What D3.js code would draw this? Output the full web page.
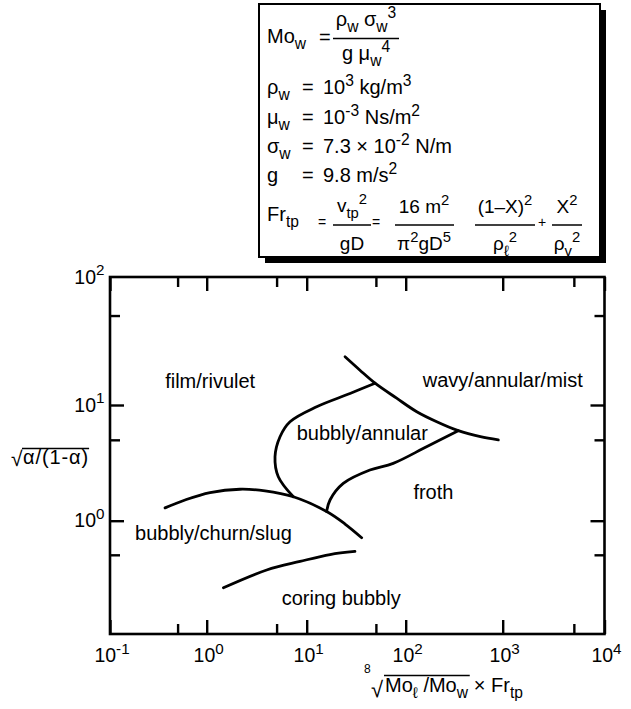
<!DOCTYPE html>
<html>
<head>
<meta charset="utf-8">
<script src="https://cdn.jsdelivr.net/npm/d3@7"></script>
<style>
  html, body { margin: 0; padding: 0; background: #fff; }
  svg { display: block; font-family: "Liberation Sans", Arial, Helvetica, sans-serif; }
</style>
</head>
<body>
<svg id="chart" width="631" height="709"></svg>
<script>
// ---------------- data ----------------
const xMajorTicks = [0.1, 1, 10, 100, 1000, 10000];
const xMajorExponents = ["-1", "0", "1", "2", "3", "4"];
const xMinorTicks = [0.5, 5, 50, 5000];
const yLabeledTicks = [1, 10, 100];
const yLabeledExponents = ["0", "1", "2"];
const yMajorTicks = [1, 10];
const yMinorTicks = [0.5, 5, 50];

// regime boundaries  [x, y] in data units
const boundaryBubblyChurn = [[0.371,1.29],[0.597,1.51],[1.08,1.75],[2.15,1.87],[3.83,1.81],[7.35,1.61],[15.9,1.20],[24.4,0.935],[35.9,0.708]];
const boundaryBubblyAnnular = [[7.35,1.61],[5.2,2.40],[4.82,3.57],[5.41,5.32],[6.81,7.17],[12.6,9.66],[27.4,12.3],[49.0,14.8]];
const boundaryWavy = [[24.4,23.8],[34.5,18.7],[49.0,14.8],[81,11.3],[130,8.75],[209,7.17],[348,6.0],[589,5.32],[901,4.99]];
const boundaryFroth = [[15.9,1.20],[17.2,1.51],[23.4,2.10],[43.5,2.74],[74.8,3.13],[164,4.36],[348,6.0]];
const boundaryCoring = [[1.47,0.256],[3.98,0.367],[8.58,0.437],[17.2,0.503],[30.7,0.535]];
const boundaries = [boundaryBubblyChurn, boundaryBubblyAnnular, boundaryWavy, boundaryFroth, boundaryCoring];

const regionNames = ["film/rivulet", "wavy/annular/mist", "bubbly/annular", "froth", "bubbly/churn/slug", "coring bubbly"];
const regionAnchors = [[0.372,13.5],[150,13.8],[7.94,4.99],[120,1.54],[0.1815,0.676],[5.62,0.18]];

// ---------------- chart ----------------
const svg = d3.select("#chart");
svg.append("rect").attr("width", 631).attr("height", 709).attr("fill", "#fff");

const xScale = d3.scaleLog().domain(xMajorTicks).range([110, 206.7, 306.7, 405.7, 502.7, 604.5]);
const yScale = d3.scaleLog().domain([0.1, 1, 10, 100]).range([634, 520.7, 405, 277]);

// rich text helper: segs = [[text, kind]], kind: undefined | "sub" | "sup"
function rich(parent, x, y, segs, size, anchor) {
  const t = parent.append("text").attr("x", x).attr("y", y)
    .attr("font-size", size).attr("text-anchor", anchor || "start").attr("fill", "#000");
  let cur = 0;
  segs.forEach(([s, kind]) => {
    const off = kind === "sub" ? size * 0.32 : kind === "sup" ? -size * 0.42 : 0;
    const fs = kind ? size * 0.78 : size;
    t.append("tspan").attr("dy", off - cur).attr("font-size", fs).text(s);
    cur = off;
  });
  return t;
}

// frame
svg.append("rect").attr("x", xScale(0.1)).attr("y", yScale(100))
  .attr("width", xScale(10000) - xScale(0.1)).attr("height", yScale(0.1) - yScale(100))
  .attr("fill", "none").attr("stroke", "#000").attr("stroke-width", 2.6);

function styleAxis(g) {
  g.select(".domain").remove();
  g.selectAll(".tick line").attr("stroke", "#000").attr("stroke-width", 2.4);
  g.selectAll(".tick text").remove();
}
const axes = [
  [d3.axisBottom, xScale, xMajorTicks, 14, `translate(0,${yScale(0.1)})`],
  [d3.axisBottom, xScale, xMinorTicks, 10, `translate(0,${yScale(0.1)})`],
  [d3.axisTop, xScale, xMajorTicks, 14, `translate(0,${yScale(100)})`],
  [d3.axisTop, xScale, xMinorTicks, 10, `translate(0,${yScale(100)})`],
  [d3.axisLeft, yScale, yMajorTicks, 14, `translate(${xScale(0.1)},0)`],
  [d3.axisLeft, yScale, yMinorTicks, 10, `translate(${xScale(0.1)},0)`],
  [d3.axisRight, yScale, yMajorTicks, 14, `translate(${xScale(10000)},0)`],
  [d3.axisRight, yScale, yMinorTicks, 10, `translate(${xScale(10000)},0)`]
];
axes.forEach(([fn, sc, vals, len, tr]) => {
  svg.append("g").attr("transform", tr)
    .call(fn(sc).tickValues(vals).tickSize(-len).tickFormat(""))
    .call(styleAxis);
});

// tick labels
const tickG = svg.append("g");
xMajorTicks.forEach((v, i) => {
  rich(tickG, xScale(v) + 2, 661.7, [["10"], [xMajorExponents[i], "sup"]], 19.5, "middle");
});
yLabeledTicks.forEach((v, i) => {
  rich(tickG, 104.5, yScale(v) + 6.5, [["10"], [yLabeledExponents[i], "sup"]], 19.5, "end");
});

// boundary curves
const line = d3.line().x(d => xScale(d[0])).y(d => yScale(d[1])).curve(d3.curveCatmullRom.alpha(0.5));
svg.append("g").selectAll("path").data(boundaries).join("path")
  .attr("d", line).attr("fill", "none").attr("stroke", "#000")
  .attr("stroke-width", 2.8).attr("stroke-linecap", "round").attr("stroke-linejoin", "round");

// region labels
svg.append("g").selectAll("text").data(regionNames).join("text")
  .attr("x", (d, i) => xScale(regionAnchors[i][0]))
  .attr("y", (d, i) => yScale(regionAnchors[i][1]))
  .attr("font-size", 20).attr("fill", "#000").text(d => d);

// y axis label  sqrt(alpha/(1-alpha))
const yl = svg.append("g");
yl.append("text").attr("x", 11).attr("y", 466).attr("font-size", 21).text("√");
const ylBody = yl.append("text").attr("x", 23).attr("y", 464).attr("font-size", 20)
  .attr("letter-spacing", 0.9).text("α/(1-α)");
{
  const bb = ylBody.node().getBBox();
  yl.append("line").attr("x1", 22).attr("x2", bb.x + bb.width).attr("y1", 448.5).attr("y2", 448.5)
    .attr("stroke", "#000").attr("stroke-width", 1.4);
}

// x axis label  8th-root(Mo_l / Mo_w) x Fr_tp
const xl = svg.append("g");
xl.append("text").attr("x", 364).attr("y", 673).attr("font-size", 12).text("8");
xl.append("text").attr("x", 371).attr("y", 697).attr("font-size", 22).text("√");
const xlBody = rich(xl, 385, 692, [["Mo"], ["ℓ", "sub"], ["\u00a0/Mo"], ["w", "sub"]], 20);
{
  const bb = xlBody.node().getBBox();
  const end = bb.x + bb.width;
  xl.append("line").attr("x1", 384).attr("x2", end + 1).attr("y1", 675.5).attr("y2", 675.5)
    .attr("stroke", "#000").attr("stroke-width", 1.4);
  rich(xl, end + 5, 692, [["×\u00a0Fr"], ["tp", "sub"]], 20);
}

// ---------------- formula box ----------------
const box = svg.append("g");
const bx = 259, by = 4, bw = 341, bh = 253;
box.append("rect").attr("x", bx + 6).attr("y", by + 6).attr("width", bw).attr("height", bh).attr("fill", "#000");
box.append("rect").attr("x", bx).attr("y", by).attr("width", bw).attr("height", bh)
  .attr("fill", "#fff").attr("stroke", "#000").attr("stroke-width", 2);

const fs = 20;
function bar(x1, x2, y) {
  box.append("line").attr("x1", x1).attr("x2", x2).attr("y1", y).attr("y2", y)
    .attr("stroke", "#000").attr("stroke-width", 1.5);
}
// row 1
rich(box, 267, 43, [["Mo"], ["w", "sub"]], fs);
rich(box, 319, 44, [["="]], fs);
rich(box, 366, 26, [["ρ"], ["w", "sub"], [" σ"], ["w", "sub"], ["3", "sup"]], fs, "middle");
bar(333, 399, 38.5);
rich(box, 366, 60, [["g μ"], ["w", "sub"], ["4", "sup"]], fs, "middle");
// rows 2-5
const rowsY = [94, 124, 153, 182];
const rowSym = [[["ρ"], ["w", "sub"]], [["μ"], ["w", "sub"]], [["σ"], ["w", "sub"]], [["g"]]];
const rowVal = [
  [["10"], ["3", "sup"], ["\u00a0kg/m"], ["3", "sup"]],
  [["10"], ["-3", "sup"], ["\u00a0Ns/m"], ["2", "sup"]],
  [["7.3\u00a0×\u00a010"], ["-2", "sup"], ["\u00a0N/m"]],
  [["9.8 m/s"], ["2", "sup"]]
];
rowsY.forEach((y, i) => {
  rich(box, 267, y, rowSym[i], fs);
  rich(box, 302, y, [["="]], fs);
  rich(box, 323, y, rowVal[i], fs);
});
// row 6
rich(box, 267, 221, [["Fr"], ["tp", "sub"]], fs);
rich(box, 318, 227, [["="]], 14);
rich(box, 352, 212, [["v"], ["tp", "sub"], ["2", "sup"]], 19, "middle");
bar(333, 371, 225);
rich(box, 352, 250, [["gD"]], 19, "middle");
rich(box, 372, 227, [["="]], 14);
rich(box, 424, 213, [["16 m"], ["2", "sup"]], 19, "middle");
bar(395, 454, 225);
rich(box, 424, 250, [["π"], ["2", "sup"], ["gD"], ["5", "sup"]], 19, "middle");
rich(box, 505, 213, [["(1–X)"], ["2", "sup"]], 19, "middle");
bar(475, 535, 225);
rich(box, 505, 250, [["ρ"], ["ℓ", "sub"], ["2", "sup"]], 19, "middle");
rich(box, 538, 227, [["+"]], 14);
rich(box, 567, 213, [["X"], ["2", "sup"]], 19, "middle");
bar(552, 582, 225);
rich(box, 567, 250, [["ρ"], ["v", "sub"], ["2", "sup"]], 19, "middle");
</script>
</body>
</html>
